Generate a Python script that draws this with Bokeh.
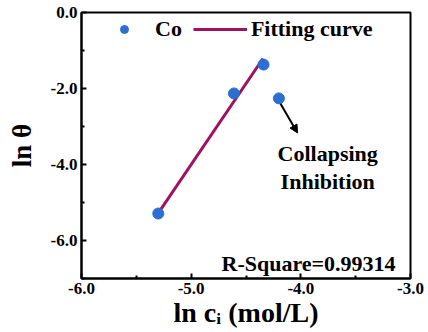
from bokeh.plotting import figure
from bokeh.models import (FixedTicker, PrintfTickFormatter, Label, Arrow, NormalHead,
                          Legend, LegendItem)
from bokeh.embed import file_html
from bokeh.resources import INLINE

# ---- data ----
ln_c = [-5.30, -4.61, -4.34, -4.20]
ln_theta = [-5.29, -2.13, -1.37, -2.26]
fit_x = [-5.30, -4.345]
fit_y = [-5.28, -1.21]
x_ticks = [-6.0, -5.0, -4.0, -3.0]
y_ticks = [0.0, -2.0, -4.0, -6.0]
x_minor = [-5.5, -4.5, -3.5]
y_minor = [-1.0, -3.0, -5.0, -7.0]
arrow_start = (-4.185, -2.40)
arrow_end = (-4.03, -3.17)
note_lines = ["Collapsing", "Inhibition"]
note_x = -3.755
note_y = [-3.71, -4.45]
r_square_text = "R-Square=0.99314"
x_label = "ln c\u1d62 (mol/L)"
y_label = "ln θ"

FONT = "Liberation Serif"
PT_COLOR = "#2B6FD3"
LINE_COLOR = "#A0115F"

p = figure(width=428, height=332, x_range=(-6, -3), y_range=(-7, 0),
           output_backend="svg", toolbar_location=None)
p.min_border_left = 81
p.min_border_right = 18
p.min_border_top = 12
p.min_border_bottom = 54
p.xgrid.visible = False
p.ygrid.visible = False
p.outline_line_color = "black"
p.outline_line_width = 2
p.background_fill_color = "white"
p.border_fill_color = "white"

for ax, ticks, minor in ((p.xaxis[0], x_ticks, x_minor), (p.yaxis[0], y_ticks, y_minor)):
    ax.ticker = FixedTicker(ticks=ticks, minor_ticks=minor)
    ax.formatter = PrintfTickFormatter(format="%.1f")
    ax.major_tick_in = 5
    ax.major_tick_out = 0
    ax.minor_tick_in = 3
    ax.minor_tick_out = 0
    ax.axis_line_width = 2
    ax.major_tick_line_width = 2
    ax.minor_tick_line_width = 2
    ax.major_label_text_font = FONT
    ax.major_label_text_font_style = "bold"
    ax.major_label_text_font_size = "17px"
    ax.major_label_text_color = "black"
    ax.axis_label_text_font = FONT
    ax.axis_label_text_font_style = "bold"
    ax.axis_label_text_color = "black"

p.xaxis[0].major_label_standoff = 4
p.xaxis[0].axis_label = x_label
p.xaxis[0].axis_label_text_font_size = "28px"
p.xaxis[0].axis_label_standoff = 0
p.yaxis[0].major_label_standoff = 4
p.yaxis[0].axis_label = y_label
p.yaxis[0].axis_label_text_font_size = "27px"
p.yaxis[0].axis_label_standoff = 11

# fit line and points
r_line = p.line(fit_x, fit_y, line_color=LINE_COLOR, line_width=3)
r_pts = p.scatter(ln_c, ln_theta, size=11, fill_color=PT_COLOR, line_color=PT_COLOR)

legend = Legend(items=[LegendItem(label="Co", renderers=[r_pts]),
                       LegendItem(label="Fitting curve", renderers=[r_line])],
                orientation="horizontal", location=(16, 236),
                border_line_color=None, background_fill_alpha=0,
                padding=0, margin=0, spacing=11,
                glyph_width=54, glyph_height=20, label_standoff=4,
                label_text_font=FONT, label_text_font_style="bold",
                label_text_font_size="22px", label_text_color="black")
p.add_layout(legend, "center")

# arrow annotation
p.add_layout(Arrow(end=NormalHead(size=8, fill_color="black", line_color="black"),
                   x_start=arrow_start[0], y_start=arrow_start[1],
                   x_end=arrow_end[0], y_end=arrow_end[1],
                   line_color="black", line_width=2))

for t, yy in zip(note_lines, note_y):
    p.add_layout(Label(x=note_x, y=yy, text=t, text_align="center",
                       text_baseline="alphabetic", text_font=FONT,
                       text_font_style="bold", text_font_size="22px",
                       text_color="black"))

p.add_layout(Label(x=-3.136, y=-6.60, text=r_square_text, text_align="right",
                   text_baseline="alphabetic", text_font=FONT,
                   text_font_style="bold", text_font_size="22px", text_color="black"))

open("out.html", "w").write(file_html(p, INLINE))
